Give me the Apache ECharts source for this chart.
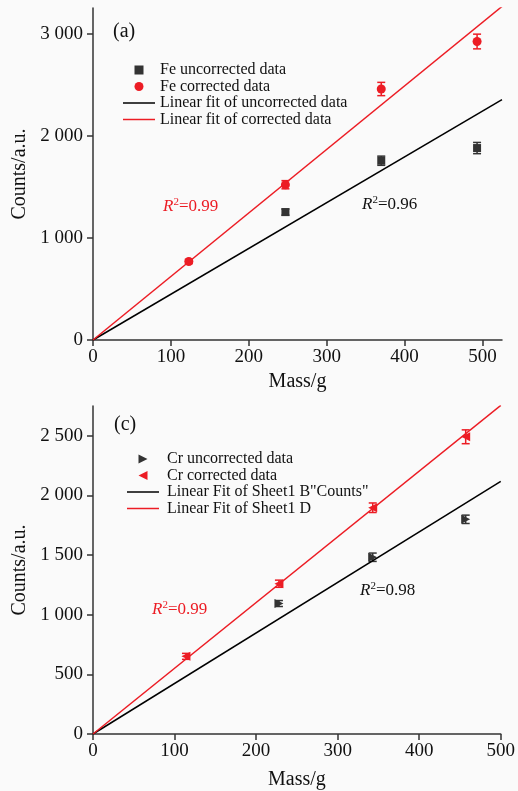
<!DOCTYPE html>
<html lang="en">
<head>
<meta charset="UTF-8">
<title>Fe / Cr counts vs mass</title>
<script src="https://cdn.jsdelivr.net/npm/echarts@6/dist/echarts.min.js"></script>
<style>
  html, body { margin: 0; padding: 0; background: #fafafa; }
  #chart { width: 518px; height: 791px; }
</style>
</head>
<body>
<div id="chart"></div>
<script>
// ---- data ----
// (a) Fe
var feCorrMass = [123, 247, 370, 493];
var feCorr = [768, 1520, 2457, 2922];
var feCorrErr = [20, 40, 65, 72];
var feUncMass = [247, 370, 493];
var feUnc = [1252, 1755, 1879];
var feUncErr = [30, 45, 55];
var feFitUnc = [[0, 0], [525, 2353]];
var feFitCorr = [[0, 0], [525, 3265]];
var feXTicks = [0, 100, 200, 300, 400, 500];
var feYTicks = [0, 1000, 2000, 3000];

// (c) Cr
var crCorrMass = [114, 228, 343, 457];
var crCorr = [651, 1260, 1897, 2492];
var crCorrErr = [25, 30, 40, 58];
var crUncMass = [228, 343, 457];
var crUnc = [1094, 1482, 1800];
var crUncErr = [25, 35, 35];
var crFitUnc = [[0, 0], [500, 2118]];
var crFitCorr = [[0, 0], [500, 2755]];
var crXTicks = [0, 100, 200, 300, 400, 500];
var crYTicks = [0, 500, 1000, 1500, 2000, 2500];

var RED = '#ec1c24';
var DARK = '#333333';
var FONT = '"Liberation Serif", "DejaVu Serif", serif';

// marker shapes
var SQUARE = 'path://M0,0L1,0L1,1L0,1Z';
var TRI_RIGHT = 'path://M0,0L1,0.5L0,1Z';
var TRI_LEFT = 'path://M1,0L0,0.5L1,1Z';
var LINE_ICON = 'path://M0,0L32,0L32,1.5L0,1.5Z';

function pts(xs, ys, es) {
    var out = [];
    for (var i = 0; i < xs.length; i++) out.push(es ? [xs[i], ys[i], es[i]] : [xs[i], ys[i]]);
    return out;
}

// thousands with a space, like "2 000"
function fmtNum(v) {
    return String(v).replace(/\B(?=(\d{3})+(?!\d))/g, ' ');
}

function errBar(color) {
    return function (params, api) {
        var x = api.value(0), y = api.value(1), e = api.value(2);
        var hi = api.coord([x, y + e]);
        var lo = api.coord([x, y - e]);
        var w = 4;
        var st = { stroke: color, lineWidth: 1.5 };
        return {
            type: 'group',
            children: [
                { type: 'line', shape: { x1: hi[0], y1: hi[1], x2: lo[0], y2: lo[1] }, style: st },
                { type: 'line', shape: { x1: hi[0] - w, y1: hi[1], x2: hi[0] + w, y2: hi[1] }, style: st },
                { type: 'line', shape: { x1: lo[0] - w, y1: lo[1], x2: lo[0] + w, y2: lo[1] }, style: st }
            ]
        };
    };
}

function xAxis(idx, max, ticks, gap) {
    return {
        type: 'value', gridIndex: idx, min: 0, max: max,
        name: 'Mass/g', nameLocation: 'middle', nameGap: gap,
        nameTextStyle: { fontFamily: FONT, fontSize: 20, color: '#111' },
        axisLine: { lineStyle: { color: DARK, width: 1.5 } },
        axisTick: { show: true, length: 6, lineStyle: { color: DARK, width: 1.5 }, customValues: ticks },
        axisLabel: { fontFamily: FONT, fontSize: 19, color: '#111', margin: 8, customValues: ticks },
        splitLine: { show: false }
    };
}

function yAxis(idx, max, ticks) {
    return {
        type: 'value', gridIndex: idx, min: 0, max: max,
        name: 'Counts/a.u.', nameLocation: 'middle', nameGap: 57,
        nameTextStyle: { fontFamily: FONT, fontSize: 20, color: '#111' },
        axisLine: { show: true, lineStyle: { color: DARK, width: 1.5 } },
        axisTick: { show: true, length: 6, lineStyle: { color: DARK, width: 1.5 }, customValues: ticks },
        axisLabel: { fontFamily: FONT, fontSize: 19, color: '#111', margin: 10, formatter: fmtNum, customValues: ticks },
        splitLine: { show: false }
    };
}

function legend(left, top, pad, items) {
    return {
        orient: 'vertical', left: left, top: top,
        itemWidth: 32, itemHeight: 9, itemGap: 0.5,
        symbolKeepAspect: true,
        textStyle: { fontFamily: FONT, fontSize: 16, color: '#111', lineHeight: 16, padding: [0, 0, 0, pad] },
        data: items
    };
}

function r2(x, y, val, color) {
    return {
        type: 'text', left: x, top: y,
        style: {
            text: '{i|R}{s|2}{n|=' + val + '}',
            fill: color,
            rich: {
                i: { fontFamily: FONT, fontStyle: 'italic', fontSize: 17, fill: color, lineHeight: 20 },
                s: { fontFamily: FONT, fontSize: 11, fill: color, verticalAlign: 'top', lineHeight: 20 },
                n: { fontFamily: FONT, fontSize: 17, fill: color, lineHeight: 20 }
            }
        }
    };
}

var chart = echarts.init(document.getElementById('chart'));

var option = {
    backgroundColor: '#fafafa',
    animation: false,
    grid: [
        { left: 93, top: 8, width: 409, height: 332 },
        { left: 93, top: 406, width: 409, height: 331 }
    ],
    xAxis: [xAxis(0, 525, feXTicks, 32), xAxis(1, 500, crXTicks, 36)],
    yAxis: [yAxis(0, 3250, feYTicks), yAxis(1, 2750, crYTicks)],
    legend: [
        legend(118, 57, 0, [
            { name: 'Fe uncorrected data', icon: SQUARE },
            { name: 'Fe corrected data', icon: 'circle' },
            { name: 'Linear fit of uncorrected data', icon: LINE_ICON },
            { name: 'Linear fit of corrected data', icon: LINE_ICON }
        ]),
        legend(122, 446, 3, [
            { name: 'Cr uncorrected data', icon: TRI_RIGHT },
            { name: 'Cr corrected data', icon: TRI_LEFT },
            { name: 'Linear Fit of Sheet1 B"Counts"', icon: LINE_ICON },
            { name: 'Linear Fit of Sheet1 D', icon: LINE_ICON }
        ])
    ],
    graphic: [
        { type: 'text', left: 113, top: 22, style: { text: '(a)', fontFamily: FONT, fontSize: 20, fill: '#111' } },
        { type: 'text', left: 114, top: 415, style: { text: '(c)', fontFamily: FONT, fontSize: 20, fill: '#111' } },
        r2(163, 197, '0.99', RED),
        r2(362, 195, '0.96', '#111'),
        r2(152, 600, '0.99', RED),
        r2(360, 581, '0.98', '#111')
    ],
    series: [
        // ---- (a) Fe ----
        { name: 'Linear fit of uncorrected data', type: 'line', xAxisIndex: 0, yAxisIndex: 0,
          data: feFitUnc, symbol: 'none', lineStyle: { color: '#000', width: 1.5 }, itemStyle: { color: '#000' } },
        { name: 'Linear fit of corrected data', type: 'line', xAxisIndex: 0, yAxisIndex: 0,
          data: feFitCorr, symbol: 'none', lineStyle: { color: RED, width: 1.5 }, itemStyle: { color: RED } },
        { name: 'feUncErr', type: 'custom', xAxisIndex: 0, yAxisIndex: 0,
          renderItem: errBar(DARK), data: pts(feUncMass, feUnc, feUncErr), z: 3 },
        { name: 'feCorrErr', type: 'custom', xAxisIndex: 0, yAxisIndex: 0,
          renderItem: errBar(RED), data: pts(feCorrMass, feCorr, feCorrErr), z: 3 },
        { name: 'Fe uncorrected data', type: 'scatter', xAxisIndex: 0, yAxisIndex: 0,
          symbol: SQUARE, symbolSize: 8, itemStyle: { color: DARK, opacity: 1 }, data: pts(feUncMass, feUnc), z: 4 },
        { name: 'Fe corrected data', type: 'scatter', xAxisIndex: 0, yAxisIndex: 0,
          symbol: 'circle', symbolSize: 9, itemStyle: { color: RED, opacity: 1 }, data: pts(feCorrMass, feCorr), z: 4 },

        // ---- (c) Cr ----
        { name: 'Linear Fit of Sheet1 B"Counts"', type: 'line', xAxisIndex: 1, yAxisIndex: 1,
          data: crFitUnc, symbol: 'none', lineStyle: { color: '#000', width: 1.5 }, itemStyle: { color: '#000' } },
        { name: 'Linear Fit of Sheet1 D', type: 'line', xAxisIndex: 1, yAxisIndex: 1,
          data: crFitCorr, symbol: 'none', lineStyle: { color: RED, width: 1.5 }, itemStyle: { color: RED } },
        { name: 'crUncErr', type: 'custom', xAxisIndex: 1, yAxisIndex: 1,
          renderItem: errBar(DARK), data: pts(crUncMass, crUnc, crUncErr), z: 3 },
        { name: 'crCorrErr', type: 'custom', xAxisIndex: 1, yAxisIndex: 1,
          renderItem: errBar(RED), data: pts(crCorrMass, crCorr, crCorrErr), z: 3 },
        { name: 'Cr uncorrected data', type: 'scatter', xAxisIndex: 1, yAxisIndex: 1,
          symbol: TRI_RIGHT, symbolSize: 9, itemStyle: { color: DARK, opacity: 1 }, data: pts(crUncMass, crUnc), z: 4 },
        { name: 'Cr corrected data', type: 'scatter', xAxisIndex: 1, yAxisIndex: 1,
          symbol: TRI_LEFT, symbolSize: 9, itemStyle: { color: RED, opacity: 1 }, data: pts(crCorrMass, crCorr), z: 4 }
    ]
};

chart.setOption(option);
</script>
</body>
</html>
